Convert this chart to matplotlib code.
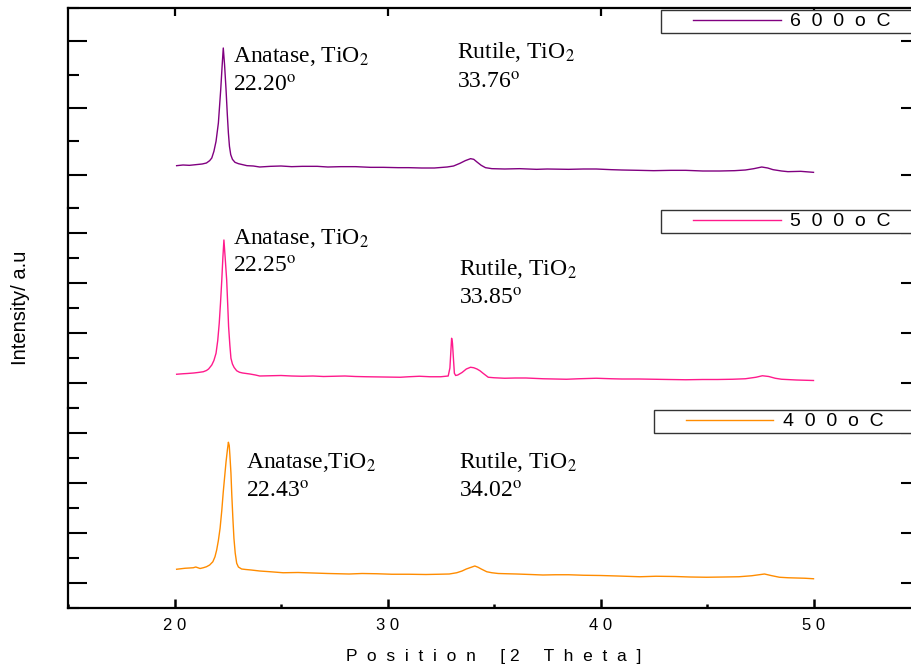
import matplotlib.pyplot as plt
from matplotlib.path import Path
from matplotlib.ticker import MultipleLocator

plt.rcParams['font.family'] = 'Liberation Sans'
plt.rcParams['mathtext.fontset'] = 'stix'

# XRD patterns (2 theta, intensity)
x600 = [20.1, 20.4, 20.7, 21.0, 21.3, 21.5, 21.65, 21.75, 21.85, 21.95, 22.06, 22.17, 22.23, 22.29,
        22.35, 22.42, 22.48, 22.53, 22.58, 22.64, 22.72, 22.84, 23.0, 23.2, 23.4, 23.7, 24.0, 24.5,
        25.0, 25.5, 26.0, 26.7, 27.2, 27.8, 28.5, 29.2, 29.8, 30.5, 31.0, 31.6, 32.2, 32.8, 33.1,
        33.4, 33.65, 33.9, 34.05, 34.2, 34.4, 34.6, 34.9, 35.5, 36.2, 37.0, 37.5, 38.5, 39.2, 39.8,
        40.5, 41.0, 41.8, 42.5, 43.3, 44.0, 44.8, 45.6, 46.3, 46.8, 47.2, 47.57, 47.85, 48.1, 48.5,
        48.8, 49.4, 50.0]
y600 = [270, 290, 280, 300, 320, 350, 420, 500, 700, 1000, 1550, 2550, 3200, 3800,
        3300, 2550, 1800, 1250, 850, 600, 460, 370, 330, 300, 270, 260, 230, 250,
        260, 240, 250, 250, 230, 240, 240, 220, 220, 210, 210, 200, 200, 230, 260,
        340, 420, 480, 460, 380, 280, 210, 180, 170, 180, 160, 170, 160, 170, 170,
        150, 140, 130, 120, 130, 130, 110, 110, 120, 140, 180, 230, 200, 150, 110,
        90, 100, 70]

x500 = [20.1, 20.4, 20.6, 20.9, 21.1, 21.35, 21.5, 21.6, 21.75, 21.85, 21.95, 22.03, 22.1, 22.16,
        22.22, 22.27, 22.32, 22.38, 22.45, 22.5, 22.54, 22.6, 22.65, 22.72, 22.8, 22.92, 23.05,
        23.2, 23.54, 23.8, 24.0, 24.5, 25.0, 25.5, 26.0, 26.5, 27.0, 27.5, 28.0, 28.5, 29.0, 29.8,
        30.6, 31.0, 31.5, 32.0, 32.5, 32.85, 32.93, 32.97, 33.01, 33.05, 33.09, 33.14, 33.2, 33.3,
        33.5, 33.7, 33.9, 34.05, 34.2, 34.34, 34.5, 34.73, 35.0, 35.5, 36.0, 36.5, 37.3, 38.4,
        39.0, 39.8, 40.5, 41.0, 41.8, 42.5, 43.2, 44.0, 44.8, 45.5, 46.2, 46.8, 47.3, 47.6, 47.9,
        48.2, 48.5, 49.2, 49.6, 50.0]
y500 = [350, 370, 380, 400, 420, 450, 500, 560, 720, 900, 1190, 1700, 2390, 3200,
        4120, 5000, 5720, 5000, 4120, 3100, 2250, 1500, 990, 760, 620, 490, 430,
        400, 360, 320, 280, 290, 300, 280, 270, 280, 260, 270, 280, 260, 250, 240,
        230, 250, 270, 250, 250, 280, 600, 1200, 1790, 1600, 1050, 390, 300, 320,
        420, 560, 630, 610, 560, 490, 380, 230, 210, 190, 200, 200, 170, 150,
        170, 190, 170, 160, 160, 150, 140, 130, 140, 140, 150, 170, 230, 290, 260,
        190, 150, 120, 110, 100]

x400 = [20.1, 20.3, 20.5, 20.7, 20.88, 21.0, 21.2, 21.35, 21.5, 21.65, 21.8, 21.9, 21.98, 22.06,
        22.14, 22.22, 22.29, 22.36, 22.42, 22.48, 22.53, 22.57, 22.6, 22.65, 22.69, 22.74, 22.79,
        22.85, 22.92, 23.0, 23.15, 23.35, 23.6, 23.8, 24.0, 24.5, 25.1, 25.8, 26.5, 27.2, 28.2,
        28.8, 29.5, 30.2, 31.0, 31.8, 32.4, 32.9, 33.25, 33.5, 33.7, 33.9, 34.1, 34.25, 34.4,
        34.66, 34.9, 35.2, 35.6, 36.06, 36.7, 37.3, 37.9, 38.5, 39.2, 40.0, 40.8, 41.85, 42.6,
        43.5, 44.2, 44.98, 45.8, 46.5, 47.1, 47.7, 48.0, 48.4, 48.8, 49.2, 49.6, 50.0]
y400 = [550, 570, 590, 600, 610, 640, 580, 610, 650, 720, 850, 1050, 1320, 1700,
        2190, 2900, 3650, 4300, 4850, 5300, 5630, 5500, 5120, 4400, 3520, 2600, 1790,
        1200, 790, 640, 560, 540, 520, 500, 480, 450, 410, 420, 400, 380, 360,
        380, 370, 350, 350, 340, 350, 360, 410, 480, 560, 620, 680, 630, 560,
        450, 410, 380, 370, 360, 340, 320, 330, 330, 310, 300, 280, 250, 270,
        260, 240, 230, 240, 250, 290, 360, 300, 230, 210, 200, 190, 170]

series = [
    (x600, y600, '6  0  0  o  C', '#800080', (-1000, 5000)),
    (x500, y500, '5  0  0  o  C', '#ff1a8c', (-1000, 7000)),
    (x400, y400, '4  0  0  o  C', '#ff8c00', (-1000, 7000)),
]

# peak labels: (x, y of first line, y of second line, phase, angle)
notes = [
    [(22.75, 3390, 2500, 'Anatase, TiO$_2$', '22.20'), (33.25, 3490, 2570, 'Rutile, TiO$_2$', '33.76')],
    [(22.75, 5560, 4400, 'Anatase, TiO$_2$', '22.25'), (33.37, 4320, 3150, 'Rutile, TiO$_2$', '33.85')],
    [(23.36, 4590, 3400, 'Anatase,TiO$_2$', '22.43'), (33.37, 4590, 3400, 'Rutile, TiO$_2$', '34.02')],
]

xticks = [20, 30, 40, 50]
xtick_labels = ['2 0', '3 0', '4 0', '5 0']


def legend_box(x0, y0, width, height, mutation_size):
    padx = 1.5 * mutation_size
    return Path([(x0 - padx, y0), (x0 + width + padx, y0), (x0 + width + padx, y0 + height),
                 (x0 - padx, y0 + height), (x0 - padx, y0)], closed=True)


W, H = 911, 668
fig = plt.figure(figsize=(W / 100, H / 100), dpi=100)
tops = [8, 208, 408]
legend_x = [0.9695, 0.9695, 0.961]

axes = []
for i, (xs, ys, lab, col, ylim) in enumerate(series):
    ax = fig.add_axes([68 / W, 1 - (tops[i] + 200) / H, 852 / W, 200 / H])
    ax.plot(xs, ys, color=col, lw=1.0, label=lab)
    ax.set_xlim(15, 55)
    ax.set_ylim(*ylim)
    ax.yaxis.set_major_locator(MultipleLocator(2000))
    ax.yaxis.set_minor_locator(MultipleLocator(1000))
    ax.tick_params(axis='y', which='major', direction='in', length=13.5, width=1.5,
                   left=True, right=True, labelleft=False)
    ax.tick_params(axis='y', which='minor', direction='in', length=8, width=1.5,
                   left=True, right=False)
    for s in ax.spines.values():
        s.set_linewidth(1.6)
    ax.spines['top'].set_visible(i == 0)
    ax.spines['bottom'].set_visible(i == 2)

    for (tx, ty1, ty2, phase, ang) in notes[i]:
        ax.text(tx, ty1, phase, family='Liberation Serif', fontsize=17, va='baseline')
        ax.text(tx, ty2, ang + '$^{\\mathrm{o}}$', family='Liberation Serif', fontsize=17,
                va='baseline')

    leg = ax.legend(loc='upper right', bbox_to_anchor=(legend_x[i], 0.992), borderaxespad=0,
                    fontsize=14, handlelength=4.5, handletextpad=0.5, borderpad=0.16,
                    frameon=True, fancybox=False, framealpha=1, edgecolor='#333333')
    leg.get_frame().set_linewidth(1.0)
    leg.get_frame().set_boxstyle(legend_box)
    axes.append(ax)

ax1, ax2, ax3 = axes
ax1.tick_params(axis='x', which='both', bottom=False, labelbottom=False, top=True,
                direction='in', length=6, width=1.6)
ax1.set_xticks(xticks)
ax2.tick_params(axis='x', which='both', bottom=False, labelbottom=False)

ax3.set_xticks(xticks)
ax3.set_xticklabels(xtick_labels)
ax3.xaxis.set_minor_locator(MultipleLocator(5))
ax3.tick_params(axis='x', which='major', direction='in', length=6.5, width=1.8, pad=7,
                labelsize=12)
ax3.tick_params(axis='x', which='minor', direction='in', length=3, width=1.8)
ax3.set_xlabel('P  o  s  i  t  i  o  n     [ 2     T  h  e  t  a  ]', fontsize=12.5, labelpad=12)

ax2.set_ylabel('Intensity/ a.u', fontsize=14.5, labelpad=24)

fig.savefig('out.png', dpi=100)
